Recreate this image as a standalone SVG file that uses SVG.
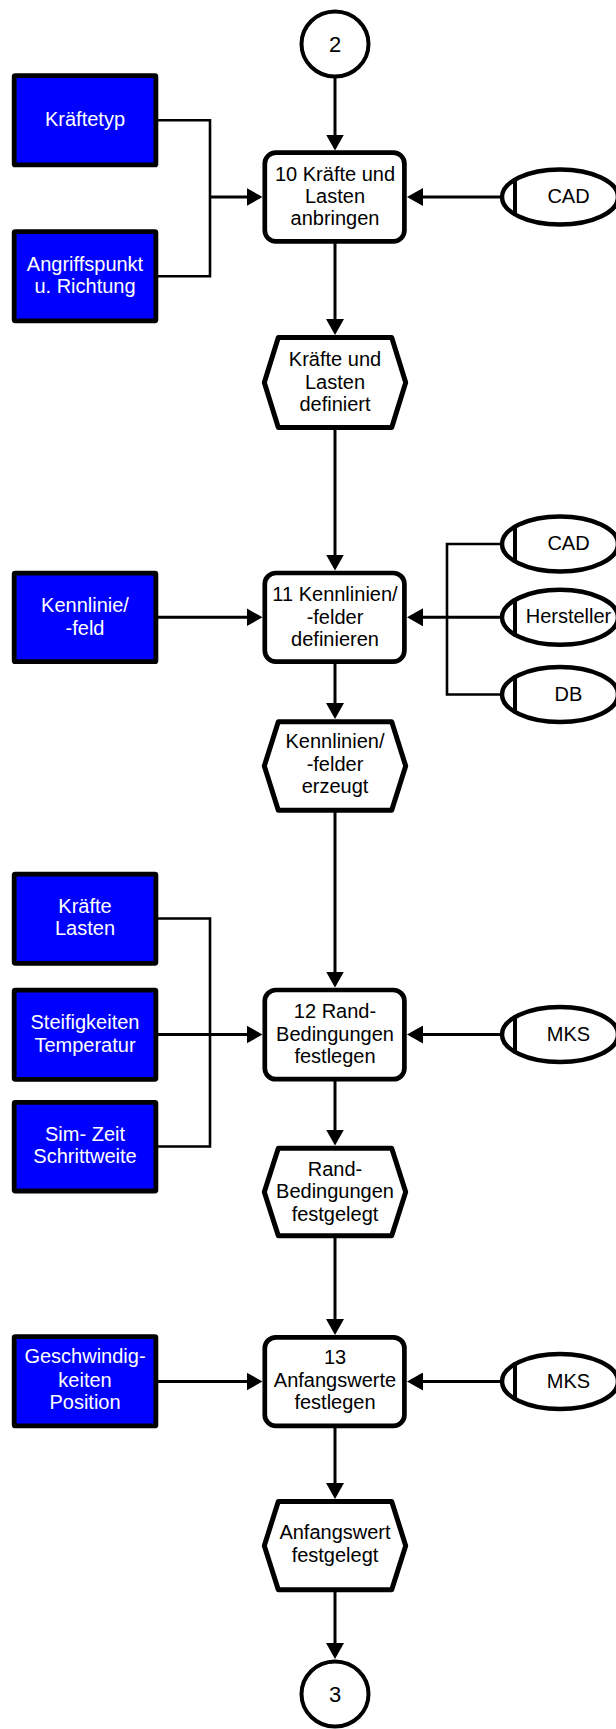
<svg xmlns="http://www.w3.org/2000/svg" width="616" height="1729" viewBox="0 0 616 1729">
  <style>
    text { font-family: "Liberation Sans", Arial, sans-serif; font-size: 20px; text-anchor: middle; }
    .dark { fill: #000; }
    .light { fill: #fff; }
    .num { font-size: 22px; }
    .input { fill: #0000ff; stroke: #000; stroke-width: 4.8; }
    .proc { fill: #fff; stroke: #000; stroke-width: 4.7; }
    .event { fill: #fff; stroke: #000; stroke-width: 5; stroke-linejoin: round; }
    .conn { fill: #fff; stroke: #000; stroke-width: 4; }
    .src { fill: #fff; stroke: #000; stroke-width: 4.5; }
    .bar { stroke: #000; stroke-width: 4; }
    .flow { fill: none; stroke: #000; stroke-width: 3; }
    .join { fill: none; stroke: #000; stroke-width: 2.6; }
  </style>
  <defs>
    <marker id="arrow" markerUnits="userSpaceOnUse" viewBox="0 0 16 18" refX="13" refY="9" markerWidth="16" markerHeight="18" orient="auto">
      <path d="M0,0 L16,9 L0,18 z" fill="#000"/>
    </marker>
  </defs>

  <!-- connectors -->
  <g id="connectors">
    <!-- main vertical flow -->
    <path class="flow" d="M335,78 V147.5" marker-end="url(#arrow)"/>
    <path class="flow" d="M335,243 V332" marker-end="url(#arrow)"/>
    <path class="flow" d="M335,430 V567.5" marker-end="url(#arrow)"/>
    <path class="flow" d="M335,664 V716" marker-end="url(#arrow)"/>
    <path class="flow" d="M335,812 V984.5" marker-end="url(#arrow)"/>
    <path class="flow" d="M335,1081 V1142.5" marker-end="url(#arrow)"/>
    <path class="flow" d="M335,1238 V1332" marker-end="url(#arrow)"/>
    <path class="flow" d="M335,1428 V1496" marker-end="url(#arrow)"/>
    <path class="flow" d="M335,1592 V1656" marker-end="url(#arrow)"/>

    <!-- inputs from the left -->
    <path class="join" d="M158,120.3 H210 V276.3 H158"/>
    <path class="flow" d="M210,197 H259.5" marker-end="url(#arrow)"/>
    <path class="flow" d="M158,617.3 H259.5" marker-end="url(#arrow)"/>
    <path class="join" d="M158,918.5 H210 V1146.5 H158"/>
    <path class="flow" d="M158,1034.5 H259.5" marker-end="url(#arrow)"/>
    <path class="flow" d="M158,1381.5 H259.5" marker-end="url(#arrow)"/>

    <!-- sources from the right -->
    <path class="flow" d="M500,197 H410" marker-end="url(#arrow)"/>
    <path class="join" d="M500,544 H447 V694.5 H500"/>
    <path class="flow" d="M500,617.3 H410" marker-end="url(#arrow)"/>
    <path class="flow" d="M500,1034.5 H410" marker-end="url(#arrow)"/>
    <path class="flow" d="M500,1381.5 H410" marker-end="url(#arrow)"/>
  </g>

  <!-- connectors to other pages -->
  <g id="conn-2">
    <ellipse class="conn" cx="335" cy="44" rx="33.5" ry="32.5"/>
    <text class="dark num" x="335" y="52">2</text>
  </g>
  <g id="conn-3">
    <ellipse class="conn" cx="335" cy="1694" rx="33.5" ry="32.5"/>
    <text class="dark num" x="335" y="1702">3</text>
  </g>

  <!-- step 10 -->
  <g id="in-kraeftetyp">
    <rect class="input" x="14.2" y="75.7" width="141.7" height="89.2" rx="1"/>
    <text class="light" x="85" y="126">Kräftetyp</text>
  </g>
  <g id="in-angriffspunkt">
    <rect class="input" x="14.2" y="231.6" width="141.7" height="89.2" rx="1"/>
    <text class="light" x="85" y="270.7">Angriffspunkt</text>
    <text class="light" x="85" y="292.5">u. Richtung</text>
  </g>
  <g id="step-10">
    <rect class="proc" x="264.8" y="152.7" width="139.6" height="88.6" rx="11"/>
    <text class="dark" x="335" y="181">10 Kräfte und</text>
    <text class="dark" x="335" y="203">Lasten</text>
    <text class="dark" x="335" y="225">anbringen</text>
  </g>
  <g id="src-cad-1">
    <ellipse class="src" cx="560" cy="197" rx="58" ry="27.5"/>
    <line class="bar" x1="515" y1="178" x2="515" y2="216"/>
    <text class="dark" x="568.5" y="203">CAD</text>
  </g>
  <g id="ev-kraefte">
    <polygon class="event" points="264.3,382.5 278.3,337.5 391.7,337.5 405.7,382.5 391.7,427.5 278.3,427.5"/>
    <text class="dark" x="335" y="366">Kräfte und</text>
    <text class="dark" x="335" y="388.5">Lasten</text>
    <text class="dark" x="335" y="411">definiert</text>
  </g>

  <!-- step 11 -->
  <g id="in-kennlinie">
    <rect class="input" x="14.2" y="573.1" width="141.7" height="88.6" rx="1"/>
    <text class="light" x="85" y="612">Kennlinie/</text>
    <text class="light" x="85" y="634.5">-feld</text>
  </g>
  <g id="step-11">
    <rect class="proc" x="264.8" y="573" width="139.6" height="88.6" rx="11"/>
    <text class="dark" x="335" y="601">11 Kennlinien/</text>
    <text class="dark" x="335" y="623.5">-felder</text>
    <text class="dark" x="335" y="646">definieren</text>
  </g>
  <g id="src-cad-2">
    <ellipse class="src" cx="560" cy="544" rx="58" ry="27.5"/>
    <line class="bar" x1="515" y1="525" x2="515" y2="563"/>
    <text class="dark" x="568.5" y="550">CAD</text>
  </g>
  <g id="src-hersteller">
    <ellipse class="src" cx="560" cy="617.3" rx="58" ry="27.5"/>
    <line class="bar" x1="515" y1="598.3" x2="515" y2="636.3"/>
    <text class="dark" x="568.5" y="623.3">Hersteller</text>
  </g>
  <g id="src-db">
    <ellipse class="src" cx="560" cy="694.5" rx="58" ry="27.5"/>
    <line class="bar" x1="515" y1="675.5" x2="515" y2="713.5"/>
    <text class="dark" x="568.5" y="700.5">DB</text>
  </g>
  <g id="ev-kennlinien">
    <polygon class="event" points="264.3,766 278.3,721.8 391.7,721.8 405.7,766 391.7,810.2 278.3,810.2"/>
    <text class="dark" x="335" y="748.3">Kennlinien/</text>
    <text class="dark" x="335" y="770.7">-felder</text>
    <text class="dark" x="335" y="793.3">erzeugt</text>
  </g>

  <!-- step 12 -->
  <g id="in-kraefte-lasten">
    <rect class="input" x="14.2" y="874.1" width="141.7" height="89.2" rx="1"/>
    <text class="light" x="85" y="913">Kräfte</text>
    <text class="light" x="85" y="935">Lasten</text>
  </g>
  <g id="in-steifigkeiten">
    <rect class="input" x="14.2" y="990.1" width="141.7" height="89.2" rx="1"/>
    <text class="light" x="85" y="1029.3">Steifigkeiten</text>
    <text class="light" x="85" y="1051.7">Temperatur</text>
  </g>
  <g id="in-simzeit">
    <rect class="input" x="14.2" y="1102.4" width="141.7" height="88.6" rx="1"/>
    <text class="light" x="85" y="1141">Sim- Zeit</text>
    <text class="light" x="85" y="1163.3">Schrittweite</text>
  </g>
  <g id="step-12">
    <rect class="proc" x="264.8" y="990" width="139.6" height="89.2" rx="11"/>
    <text class="dark" x="335" y="1018">12 Rand-</text>
    <text class="dark" x="335" y="1040.5">Bedingungen</text>
    <text class="dark" x="335" y="1063">festlegen</text>
  </g>
  <g id="src-mks-1">
    <ellipse class="src" cx="560" cy="1034.5" rx="58" ry="27.5"/>
    <line class="bar" x1="515" y1="1015.5" x2="515" y2="1053.5"/>
    <text class="dark" x="568.5" y="1040.7">MKS</text>
  </g>
  <g id="ev-randbedingungen">
    <polygon class="event" points="264.3,1192 278.3,1148.2 391.7,1148.2 405.7,1192 391.7,1235.8 278.3,1235.8"/>
    <text class="dark" x="335" y="1175.5">Rand-</text>
    <text class="dark" x="335" y="1198">Bedingungen</text>
    <text class="dark" x="335" y="1220.5">festgelegt</text>
  </g>

  <!-- step 13 -->
  <g id="in-geschwindigkeiten">
    <rect class="input" x="14.2" y="1336.7" width="141.7" height="89.2" rx="1"/>
    <text class="light" x="85" y="1363.3">Geschwindig-</text>
    <text class="light" x="85" y="1386.7">keiten</text>
    <text class="light" x="85" y="1409.3">Position</text>
  </g>
  <g id="step-13">
    <rect class="proc" x="264.8" y="1337.3" width="139.6" height="88.6" rx="11"/>
    <text class="dark" x="335" y="1364">13</text>
    <text class="dark" x="335" y="1386.7">Anfangswerte</text>
    <text class="dark" x="335" y="1409.3">festlegen</text>
  </g>
  <g id="src-mks-2">
    <ellipse class="src" cx="560" cy="1381.5" rx="58" ry="27.5"/>
    <line class="bar" x1="515" y1="1362.5" x2="515" y2="1400.5"/>
    <text class="dark" x="568.5" y="1387.5">MKS</text>
  </g>
  <g id="ev-anfangswert">
    <polygon class="event" points="264.3,1545.7 278.3,1501.5 391.7,1501.5 405.7,1545.7 391.7,1589.8 278.3,1589.8"/>
    <text class="dark" x="335" y="1539.3">Anfangswert</text>
    <text class="dark" x="335" y="1561.7">festgelegt</text>
  </g>
</svg>
